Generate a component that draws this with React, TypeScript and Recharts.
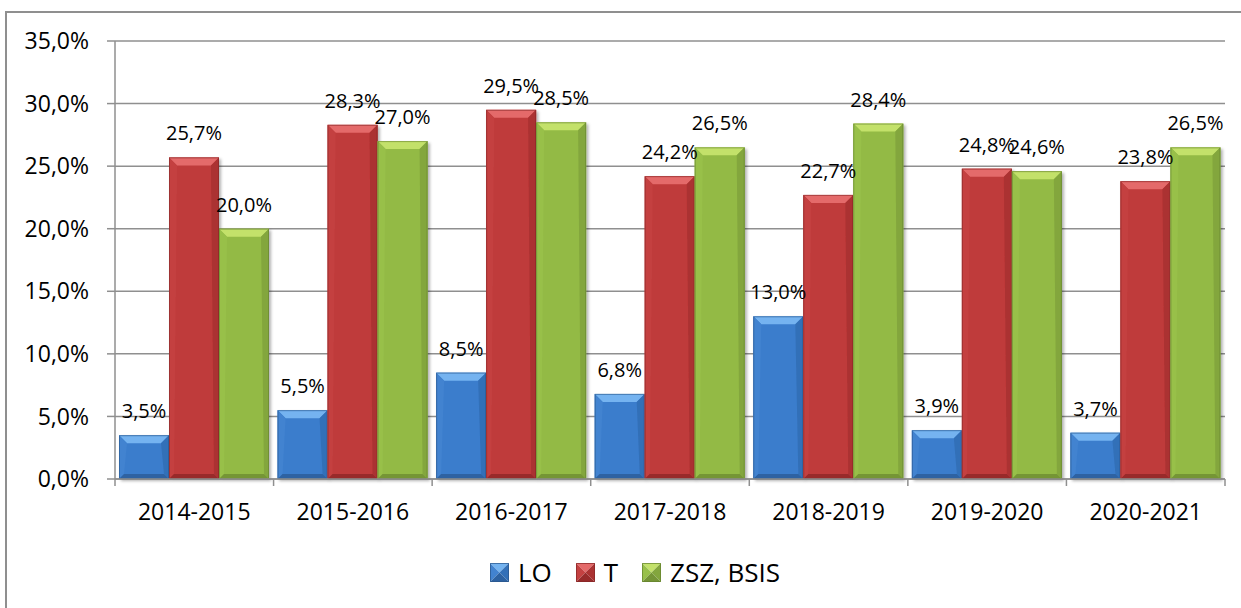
import { BarChart, Bar, XAxis, YAxis, CartesianGrid, Legend, LabelList } from "recharts";

const years = [
  "2014-2015",
  "2015-2016",
  "2016-2017",
  "2017-2018",
  "2018-2019",
  "2019-2020",
  "2020-2021",
];
const loValues = [3.5, 5.5, 8.5, 6.8, 13.0, 3.9, 3.7];
const tValues = [25.7, 28.3, 29.5, 24.2, 22.7, 24.8, 23.8];
const zszValues = [20.0, 27.0, 28.5, 26.5, 28.4, 24.6, 26.5];
const yTicks = [0, 5, 10, 15, 20, 25, 30, 35];

const data = years.map((year, i) => ({
  year,
  lo: loValues[i],
  t: tValues[i],
  zsz: zszValues[i],
}));

type Pal = { face: string; top: string; left: string; right: string; bottom: string; edge: string };

const palettes: Record<string, Pal> = {
  lo: { face: "#3b7dcc", top: "#74b3f0", left: "#4283d0", right: "#3370b8", bottom: "#2d62a2", edge: "#2a568a" },
  t: { face: "#bf3a3a", top: "#e46a6a", left: "#c44141", right: "#ab3232", bottom: "#982b2b", edge: "#862626" },
  zsz: { face: "#93ba45", top: "#c3e16b", left: "#98c04a", right: "#83a63d", bottom: "#759536", edge: "#64812e" },
};

const GRID = "#8f8f8f";
const FONT = "'Open Sans', sans-serif";
const X_TICK_SIZE = 7;
const X_TICK_MARGIN = 18;

const fmt = (v: number) => `${Number(v).toFixed(1).replace(".", ",")}%`;

function BevelBar(props: any) {
  const { x, y, width: w, height: h, pal } = props;
  if (!w || !h || h <= 0) return null;
  const b = Math.min(8, w / 2, h / 2);
  const s = Math.min(5, w / 2, h / 2);
  return (
    <g filter="url(#barShadow)">
      <rect x={x} y={y} width={w} height={h} fill={pal.face} />
      <polygon points={`${x},${y} ${x + w},${y} ${x + w - b},${y + b} ${x + b},${y + b}`} fill={pal.top} />
      <polygon points={`${x},${y} ${x + b},${y + b} ${x + s},${y + h - s} ${x},${y + h}`} fill={pal.left} />
      <polygon points={`${x + w},${y} ${x + w},${y + h} ${x + w - s},${y + h - s} ${x + w - b},${y + b}`} fill={pal.right} />
      <polygon points={`${x},${y + h} ${x + s},${y + h - s} ${x + w - s},${y + h - s} ${x + w},${y + h}`} fill={pal.bottom} />
      <rect x={x + 0.5} y={y + 0.5} width={w - 1} height={h - 1} fill="none" stroke={pal.edge} strokeOpacity={0.6} strokeWidth={1} />
    </g>
  );
}

function XTick(props: any) {
  const { x, y, payload, index, width, visibleTicksCount } = props;
  const count = visibleTicksCount || years.length;
  const band = (width || 1110) / count;
  const lineTop = y - X_TICK_MARGIN - X_TICK_SIZE;
  const lineBottom = y - X_TICK_MARGIN;
  return (
    <g>
      <line x1={x - band / 2} x2={x - band / 2} y1={lineTop} y2={lineBottom} stroke={GRID} strokeWidth={1.5} />
      {index === count - 1 && (
        <line x1={x + band / 2} x2={x + band / 2} y1={lineTop} y2={lineBottom} stroke={GRID} strokeWidth={1.5} />
      )}
      <text x={x} y={y} dy="0.71em" textAnchor="middle" fontSize={23} fill="#000" fontFamily={FONT}>
        {payload.value}
      </text>
    </g>
  );
}

function LegendIcon({ pal }: { pal: Pal }) {
  const s = 19;
  const c = s / 2;
  return (
    <svg width={s} height={s} style={{ display: "block" }}>
      <polygon points={`0,0 ${s},0 ${c},${c}`} fill={pal.top} />
      <polygon points={`0,0 ${c},${c} 0,${s}`} fill={pal.left} />
      <polygon points={`${s},0 ${s},${s} ${c},${c}`} fill={pal.right} />
      <polygon points={`0,${s} ${c},${c} ${s},${s}`} fill={pal.bottom} />
      <rect x={0.5} y={0.5} width={s - 1} height={s - 1} fill="none" stroke={pal.edge} strokeOpacity={0.7} />
    </svg>
  );
}

function renderLegend(props: any) {
  const items = props.payload || [];
  return (
    <div
      style={{
        display: "flex",
        justifyContent: "center",
        alignItems: "center",
        fontFamily: FONT,
        fontSize: 26,
        lineHeight: "26px",
        color: "#000",
      }}
    >
      {items.map((item: any, i: number) => (
        <div key={item.value} style={{ display: "flex", alignItems: "center", marginRight: i < items.length - 1 ? 24 : 0 }}>
          <LegendIcon pal={palettes[item.dataKey]} />
          <span style={{ marginLeft: 9 }}>{item.value}</span>
        </div>
      ))}
    </div>
  );
}

export default function App() {
  const labelStyle = { fontSize: 20, fill: "#000", fontFamily: FONT };
  return (
    <div style={{ position: "absolute", left: 0, top: 0, width: 1241, height: 608, overflow: "hidden", background: "#fff" }}>
      <div
        style={{
          position: "absolute",
          left: 5,
          top: 11,
          width: 1236,
          height: 597,
          borderLeft: `2px solid ${GRID}`,
          borderTop: `2px solid ${GRID}`,
          boxSizing: "border-box",
        }}
      />
      <div style={{ position: "absolute", left: 0, top: 0 }}>
        <BarChart
          width={1241}
          height={608}
          data={data}
          margin={{ top: 41, right: 16, bottom: 0, left: 0 }}
          barCategoryGap={4}
          barGap={0}
          style={{ fontFamily: FONT }}
        >
          <defs>
            <filter id="barShadow" x="-10%" y="-10%" width="130%" height="130%">
              <feDropShadow dx="2" dy="2" stdDeviation="1.5" floodColor="#000" floodOpacity="0.3" />
            </filter>
          </defs>
          <CartesianGrid vertical={false} stroke={GRID} strokeWidth={1.5} />
          <XAxis
            dataKey="year"
            height={129}
            tickSize={X_TICK_SIZE}
            tickMargin={X_TICK_MARGIN}
            tickLine={false}
            axisLine={{ stroke: GRID, strokeWidth: 1.5 }}
            tick={<XTick />}
            interval={0}
          />
          <YAxis
            width={115}
            domain={[0, 35]}
            ticks={yTicks}
            interval={0}
            tickSize={8}
            tickMargin={18}
            tickFormatter={(v) => `${Number(v).toFixed(1).replace(".", ",")}%`}
            tick={{ fontSize: 23, fill: "#000", fontFamily: FONT }}
            axisLine={{ stroke: GRID, strokeWidth: 1.5 }}
            tickLine={{ stroke: GRID, strokeWidth: 1.5 }}
          />
          <Legend
            verticalAlign="middle"
            align="center"
            layout="horizontal"
            wrapperStyle={{ top: 559, left: 30, width: 1210 }}
            content={renderLegend}
          />
          <Bar dataKey="lo" name="LO" fill={palettes.lo.face} isAnimationActive={false} shape={(p: any) => <BevelBar {...p} pal={palettes.lo} />}>
            <LabelList dataKey="lo" position="top" offset={17} formatter={(v: any) => fmt(v)} style={labelStyle} />
          </Bar>
          <Bar dataKey="t" name="T" fill={palettes.t.face} isAnimationActive={false} shape={(p: any) => <BevelBar {...p} pal={palettes.t} />}>
            <LabelList dataKey="t" position="top" offset={17} formatter={(v: any) => fmt(v)} style={labelStyle} />
          </Bar>
          <Bar dataKey="zsz" name="ZSZ, BSIS" fill={palettes.zsz.face} isAnimationActive={false} shape={(p: any) => <BevelBar {...p} pal={palettes.zsz} />}>
            <LabelList dataKey="zsz" position="top" offset={17} formatter={(v: any) => fmt(v)} style={labelStyle} />
          </Bar>
        </BarChart>
      </div>
    </div>
  );
}
